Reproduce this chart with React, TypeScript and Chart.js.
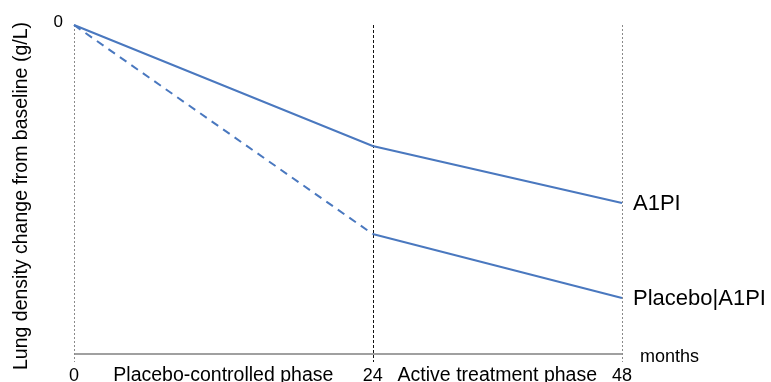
import React, { useEffect, useRef } from "react";
import { Chart, registerables, LinearScale } from "chart.js";

Chart.register(...registerables);

const months = [0, 24, 48];
const a1piValues = [0, -1.21, -1.78];
const placeboValues = [0, -2.09, -2.73];
const seriesLabels = ["A1PI", "Placebo|A1PI"];
const xTickLabels = ["0", "24", "48"];
const phaseLabels = ["Placebo-controlled phase", "Active treatment phase"];
const phaseLabelPositions = [12, 36];
const yTickLabels = ["0"];
const yTitle = "Lung density change from baseline (g/L)";
const xUnit = "months";

const BLUE = "#4a78bf";
const FONT = '"Liberation Sans", Arial, Helvetica, sans-serif';

// Linear scale whose phases take different widths (placebo phase drawn wider)
class PiecewiseScale extends (LinearScale as any) {
  static id = "piecewise";
  static defaults = (LinearScale as any).defaults;
  _frac(value: number) {
    const bp: number[] = this.options.breakpoints;
    const fr: number[] = this.options.fractions;
    if (value <= bp[0]) return fr[0] + ((value - bp[0]) / (bp[1] - bp[0])) * (fr[1] - fr[0]);
    for (let i = 0; i < bp.length - 1; i++) {
      if (value <= bp[i + 1] || i === bp.length - 2) {
        return fr[i] + ((value - bp[i]) / (bp[i + 1] - bp[i])) * (fr[i + 1] - fr[i]);
      }
    }
    return 1;
  }
  getPixelForValue(value: number) {
    return this.getPixelForDecimal(this._frac(value));
  }
  getValueForPixel(pixel: number) {
    const d = this.getDecimalForPixel(pixel);
    const bp: number[] = this.options.breakpoints;
    const fr: number[] = this.options.fractions;
    for (let i = 0; i < bp.length - 1; i++) {
      if (d <= fr[i + 1] || i === bp.length - 2) {
        return bp[i] + ((d - fr[i]) / (fr[i + 1] - fr[i])) * (bp[i + 1] - bp[i]);
      }
    }
    return bp[bp.length - 1];
  }
}
Chart.register(PiecewiseScale as any);

const overlay = {
  id: "overlay",
  beforeDatasetsDraw(chart: any) {
    const { ctx, chartArea, scales } = chart;
    const x = scales.x;
    ctx.save();
    ctx.strokeStyle = "#808080";
    ctx.lineWidth = 1.5;
    ctx.beginPath();
    ctx.moveTo(x.getPixelForValue(0), chartArea.bottom);
    ctx.lineTo(x.getPixelForValue(48), chartArea.bottom);
    ctx.stroke();
    months.forEach((m, i) => {
      const px = Math.round(x.getPixelForValue(m)) + 0.5;
      ctx.strokeStyle = i === 1 ? "#111111" : "#8a8a8a";
      ctx.lineWidth = 1;
      ctx.setLineDash(i === 1 ? [3, 2] : [2, 2]);
      ctx.beginPath();
      ctx.moveTo(px, chartArea.top);
      ctx.lineTo(px, chartArea.bottom + 8);
      ctx.stroke();
    });
    ctx.setLineDash([]);
    ctx.restore();
  },
  afterDatasetsDraw(chart: any) {
    const { ctx, scales } = chart;
    const x = scales.x;
    const y = scales.y;
    ctx.save();
    ctx.fillStyle = "#000000";
    ctx.font = `18px ${FONT}`;
    ctx.textAlign = "center";
    ctx.textBaseline = "alphabetic";
    months.forEach((m, i) => {
      ctx.fillText(xTickLabels[i], x.getPixelForValue(m), 381);
    });
    ctx.font = `19.5px ${FONT}`;
    phaseLabels.forEach((t, i) => {
      ctx.fillText(t, x.getPixelForValue(phaseLabelPositions[i]), 381);
    });
    ctx.font = `18px ${FONT}`;
    ctx.textAlign = "left";
    ctx.fillText(xUnit, x.getPixelForValue(48) + 18, 362);
    ctx.font = `17px ${FONT}`;
    ctx.textAlign = "right";
    ctx.fillText(yTickLabels[0], x.getPixelForValue(0) - 11, y.getPixelForValue(0) + 2);
    ctx.font = `22px ${FONT}`;
    ctx.textAlign = "left";
    ctx.textBaseline = "middle";
    ctx.fillText(seriesLabels[0], x.getPixelForValue(48) + 11, y.getPixelForValue(a1piValues[2]) + 1);
    ctx.fillText(seriesLabels[1], x.getPixelForValue(48) + 11, y.getPixelForValue(placeboValues[2]) + 1);
    ctx.font = `19.5px ${FONT}`;
    ctx.translate(22, 196);
    ctx.rotate(-Math.PI / 2);
    ctx.textAlign = "center";
    ctx.textBaseline = "middle";
    ctx.fillText(yTitle, 0, 0);
    ctx.restore();
  },
};

export default function App() {
  const ref = useRef<HTMLCanvasElement | null>(null);
  useEffect(() => {
    if (!ref.current) return;
    const chart = new Chart(ref.current, {
      type: "line",
      data: {
        datasets: [
          {
            label: seriesLabels[0],
            data: months.map((m, i) => ({ x: m, y: a1piValues[i] })),
            borderColor: BLUE,
            borderWidth: 2,
            pointRadius: 0,
            tension: 0,
            clip: false as any,
          },
          {
            label: seriesLabels[1],
            data: months.map((m, i) => ({ x: m, y: placeboValues[i] })),
            borderColor: BLUE,
            borderWidth: 2,
            pointRadius: 0,
            tension: 0,
            clip: false as any,
            segment: {
              borderDash: (c: any) => (c.p0DataIndex === 0 ? [8, 6] : undefined),
            },
          },
        ],
      },
      options: {
        animation: false,
        responsive: false,
        maintainAspectRatio: false,
        layout: { padding: { left: 74, right: 149, top: 25, bottom: 28 } },
        plugins: { legend: { display: false }, tooltip: { enabled: false } },
        scales: {
          x: {
            type: "piecewise" as any,
            min: 0,
            max: 48,
            display: false,
            breakpoints: [0, 24, 48],
            fractions: [0, 0.545, 1],
          } as any,
          y: { type: "linear", min: -3.29, max: 0, display: false },
        },
      },
      plugins: [overlay],
    });
    return () => chart.destroy();
  }, []);
  return (
    <div style={{ position: "absolute", left: 0, top: 0, width: 771, height: 382, background: "#fff" }}>
      <canvas ref={ref} width={771} height={382} style={{ width: 771, height: 382, display: "block" }} />
    </div>
  );
}
